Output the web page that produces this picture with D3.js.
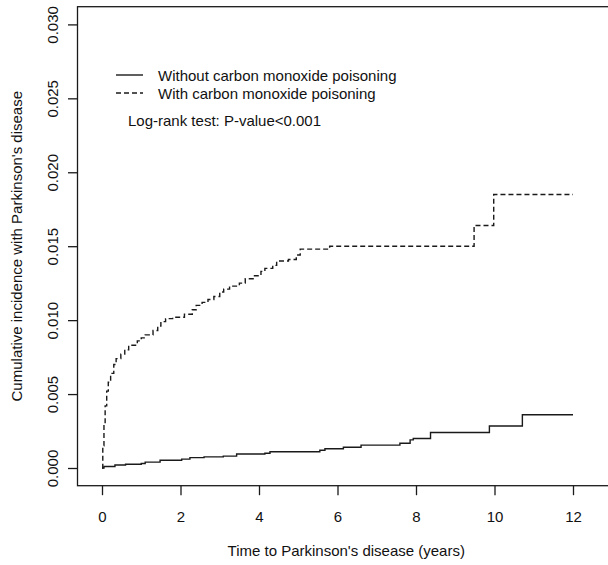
<!DOCTYPE html>
<html>
<head>
<meta charset="utf-8">
<script src="https://cdn.jsdelivr.net/npm/d3@7"></script>
<style>
html,body{margin:0;padding:0;background:#fff;}
svg{display:block;}
text{font-family:"Liberation Sans",Arial,sans-serif;fill:#111;}
</style>
</head>
<body>
<svg id="chart" width="608" height="565"></svg>
<script>
// ---- data ----
const seriesNames = ["Without carbon monoxide poisoning", "With carbon monoxide poisoning"];
const noTimes  = [0, 0.05, 0.33, 0.6, 1.0, 1.1, 1.48, 2.03, 2.24, 2.6, 3.09, 3.43, 4.15, 4.28, 5.55, 5.68, 6.15, 6.6, 7.59, 7.85, 7.93, 8.37, 9.87, 10.71, 12.0];
const noValues = [0, 0.0001, 0.0002, 0.00025, 0.0003, 0.0004, 0.00052, 0.0006, 0.0007, 0.00075, 0.0008, 0.00095, 0.001, 0.0011, 0.0012, 0.0013, 0.0014, 0.00155, 0.00167, 0.0019, 0.002, 0.0024, 0.00284, 0.0036, 0.0036];
const coTimes  = [0, 0.02, 0.05, 0.08, 0.12, 0.16, 0.22, 0.30, 0.36, 0.48, 0.58, 0.68, 0.90, 1.00, 1.10, 1.30, 1.42, 1.50, 1.62, 1.80, 2.10, 2.30, 2.40, 2.55, 2.70, 2.85, 3.00, 3.10, 3.25, 3.50, 3.65, 3.85, 4.05, 4.15, 4.35, 4.45, 4.75, 4.95, 5.05, 5.80, 9.48, 9.98, 12.0];
const coValues = [0, 0.0015, 0.003, 0.0042, 0.0052, 0.0058, 0.0064, 0.0070, 0.0074, 0.0077, 0.0080, 0.0083, 0.0086, 0.0088, 0.0090, 0.0093, 0.0096, 0.0099, 0.0101, 0.0102, 0.0104, 0.0107, 0.0110, 0.0112, 0.0114, 0.0116, 0.0119, 0.0121, 0.0123, 0.0125, 0.0128, 0.0130, 0.0133, 0.0135, 0.0137, 0.0140, 0.0141, 0.0144, 0.0148, 0.0150, 0.0164, 0.0185, 0.0185];
const xTicks = [0, 2, 4, 6, 8, 10, 12];
const yTicks = [0, 0.005, 0.010, 0.015, 0.020, 0.025, 0.030];
const xTitle = "Time to Parkinson's disease (years)";
const yTitle = "Cumulative incidence with Parkinson's disease";
const annotation = "Log-rank test: P-value<0.001";

// ---- layout ----
const svg = d3.select("#chart");
const box = {left: 77.5, right: 616, top: 6.7, bottom: 485.7};
const x = d3.scaleLinear().domain([0, 12]).range([102, 573]);
const y = d3.scaleLinear().domain([0, 0.03]).range([468, 24.4]);
const ink = "#1a1a1a";

// box
svg.append("rect")
  .attr("x", box.left).attr("y", box.top)
  .attr("width", box.right - box.left).attr("height", box.bottom - box.top)
  .attr("fill", "none").attr("stroke", ink).attr("stroke-width", 1.3);

// x axis
const gx = svg.append("g").attr("transform", `translate(0,${box.bottom})`)
  .call(d3.axisBottom(x).tickValues(xTicks).tickSize(9.5).tickFormat(d3.format("d")));
gx.select(".domain").remove();
gx.selectAll("line").attr("stroke", ink).attr("stroke-width", 1.3);
gx.selectAll("text").attr("y", 31).attr("dy", "0.35em")
  .style("font-size", "15px").attr("fill", ink);

// y axis
const gy = svg.append("g").attr("transform", `translate(${box.left},0)`)
  .call(d3.axisLeft(y).tickValues(yTicks).tickSize(9.5).tickFormat(d3.format(".3f")));
gy.select(".domain").remove();
gy.selectAll("line").attr("stroke", ink).attr("stroke-width", 1.3);
gy.selectAll("text")
  .attr("x", null).attr("dy", null)
  .attr("transform", "translate(-25.5,0) rotate(-90)")
  .attr("text-anchor", "middle").attr("dominant-baseline", "central")
  .style("font-size", "15px").attr("fill", ink);

// titles
svg.append("text").attr("x", (box.left + box.right) / 2 - 0.5).attr("y", 550)
  .attr("text-anchor", "middle").attr("dominant-baseline", "central")
  .style("font-size", "15px").text(xTitle);
svg.append("text")
  .attr("transform", `translate(16,${(box.top + box.bottom) / 2}) rotate(-90)`)
  .attr("text-anchor", "middle").attr("dominant-baseline", "central")
  .style("font-size", "15px").text(yTitle);

// curves
const line = d3.line().x(d => x(d[0])).y(d => y(d[1])).curve(d3.curveStepAfter);
svg.append("path").datum(d3.zip(noTimes, noValues))
  .attr("d", line).attr("fill", "none").attr("stroke", ink).attr("stroke-width", 1.4);
svg.append("path").datum(d3.zip(coTimes, coValues))
  .attr("d", line).attr("fill", "none").attr("stroke", ink).attr("stroke-width", 1.4)
  .attr("stroke-dasharray", "5,3");

// legend
const legY = [75, 93];
const legDash = [null, "5,3"];
seriesNames.forEach((name, i) => {
  svg.append("line").attr("x1", 116).attr("x2", 143).attr("y1", legY[i]).attr("y2", legY[i])
    .attr("stroke", ink).attr("stroke-width", 1.4).attr("stroke-dasharray", legDash[i]);
  svg.append("text").attr("x", 158).attr("y", legY[i]).attr("dominant-baseline", "central")
    .style("font-size", "15px").text(name);
});
svg.append("text").attr("x", 128).attr("y", 120).attr("dominant-baseline", "central")
  .style("font-size", "15px").text(annotation);
</script>
</body>
</html>
